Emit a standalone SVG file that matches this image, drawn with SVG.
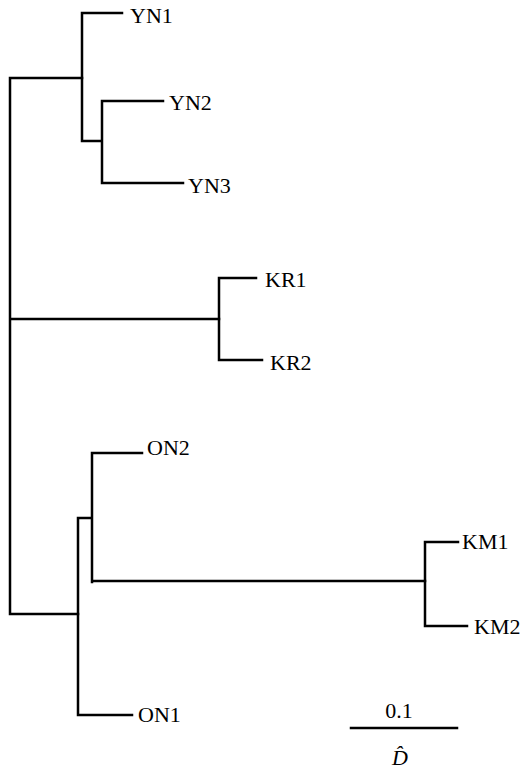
<svg xmlns="http://www.w3.org/2000/svg" width="525" height="771" viewBox="0 0 525 771">
<style>
.e{fill:none;stroke:#000;stroke-width:2.5;stroke-linecap:square}
text{font-family:'Liberation Serif',serif;font-size:22px;fill:#000}
</style>
<rect width="525" height="771" fill="#fff"/>
<g id="connectors">
<path class="e" d="M10,78 V614 M10,78 H82 M10,319 H219 M10,614 H78"/>
<path class="e" d="M82,13 V141 M82,13 H122 M82,141 H102 M102,101 V183 M102,101 H163 M102,183 H183"/>
<path class="e" d="M219,278 V360 M219,278 H256 M219,360 H262"/>
<path class="e" d="M78,518 V715 M78,715 H132 M78,518 H92 M92,453 V582 M92,453 H142 M92,581 H425"/>
<path class="e" d="M425,542 V626 M425,542 H458 M425,626 H467"/>
</g>
<g id="YN1"><text x="130" y="23">YN1</text></g>
<g id="YN2"><text x="169" y="110">YN2</text></g>
<g id="YN3"><text x="188" y="193">YN3</text></g>
<g id="KR1"><text x="265" y="287">KR1</text></g>
<g id="KR2"><text x="270" y="370">KR2</text></g>
<g id="ON2"><text x="147" y="455">ON2</text></g>
<g id="ON1"><text x="138" y="722">ON1</text></g>
<g id="KM1"><text x="462" y="549">KM1</text></g>
<g id="KM2"><text x="474" y="634">KM2</text></g>
<g id="scale">
<line class="e" x1="351" y1="728" x2="457" y2="728" stroke-linecap="butt"/>
<text x="399" y="718" text-anchor="middle">0.1</text>
<text x="400" y="765" text-anchor="middle" font-style="italic">D̂</text>
</g>
</svg>
